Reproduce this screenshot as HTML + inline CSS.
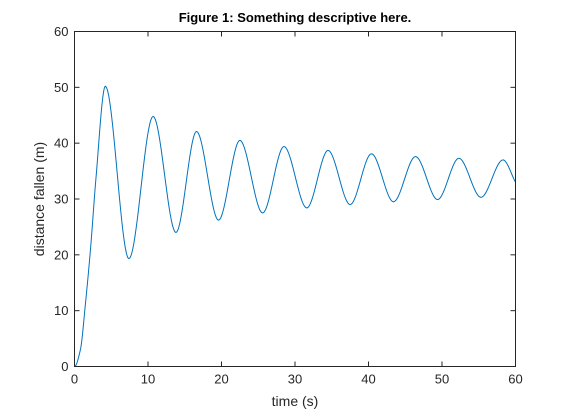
<!DOCTYPE html>
<html><head><meta charset="utf-8"><style>
body{margin:0;background:#fff;}
svg{display:block;font-family:"Liberation Sans","DejaVu Sans",sans-serif;}
</style></head><body>
<svg id="chart" width="570" height="413" viewBox="0 0 570 413">
<rect x="0" y="0" width="570" height="413" fill="#fff"/>
<rect x="74" y="31" width="442" height="336" fill="#fff"/>
<g id="grid"></g>
<path id="line" fill="none" stroke="#0072BD" stroke-width="1"/>
<rect x="74.5" y="31.5" width="441" height="335" fill="none" stroke="#262626" stroke-width="1"/>
<text x="295" y="22" text-anchor="middle" font-weight="bold" font-size="13" fill="#000">Figure 1: Something descriptive here.</text>
<text x="295" y="406" text-anchor="middle" font-size="14" fill="#262626">time (s)</text>
<text x="44" y="199" text-anchor="middle" font-size="14" fill="#262626" transform="rotate(-90 44 199)">distance fallen (m)</text>
</svg>
<script>
const tData=[0,0.8,1.5,2.2,2.9,4.2,7.4,10.7,13.8,16.6,19.6,22.5,25.6,28.5,31.6,34.5,37.5,40.4,43.4,46.4,49.4,52.3,55.3,58.3,60];
const yData=[0,3,11.4,21.4,33.4,50.2,19.3,44.8,24,42.1,26.2,40.5,27.5,39.4,28.4,38.7,29,38.1,29.5,37.6,29.9,37.3,30.3,37,33];
const xTicks=[0,10,20,30,40,50,60];
const yTicks=[0,10,20,30,40,50,60];
const X0=74.5,X1=515.5,Y0=366.5,Y1=31.5;
const xs=v=>X0+(v-0)/60*(X1-X0);
const ys=v=>Y0-(v-0)/60*(Y0-Y1);
const NS='http://www.w3.org/2000/svg';
const g=document.getElementById('grid');
function mk(tag,attrs){const e=document.createElementNS(NS,tag);for(const k in attrs)e.setAttribute(k,attrs[k]);return e;}
xTicks.forEach(v=>{
 const x=xs(v);
 const t1=mk('line',{x1:x,x2:x,y1:Y0,y2:Y0-5,stroke:'#262626'});
 
 
 g.appendChild(t1);
 const t2=mk('line',{x1:x,x2:x,y1:Y1,y2:Y1+5,stroke:'#262626'});
 
 
 g.appendChild(t2);
 const l=mk('text',{x:x,y:Y0+17,'text-anchor':'middle','font-size':'13',fill:'#262626'});
 l.textContent=v;
 
 
 g.appendChild(l);
});
yTicks.forEach(v=>{
 const y=ys(v);
 const t1=mk('line',{x1:X0,x2:X0+5,y1:y,y2:y,stroke:'#262626'});
 
 
 g.appendChild(t1);
 const t2=mk('line',{x1:X1,x2:X1-5,y1:y,y2:y,stroke:'#262626'});
 
 
 g.appendChild(t2);
 const l=mk('text',{x:X0-6,y:y+4.5,'text-anchor':'end','font-size':'13',fill:'#262626'});
 l.textContent=v;
 
 
 g.appendChild(l);
});
const n=tData.length,d=[],m=[];
for(let i=0;i<n-1;i++)d.push((yData[i+1]-yData[i])/(tData[i+1]-tData[i]));
m[0]=0;m[n-1]=d[n-2];
for(let i=1;i<n-1;i++){
 if(d[i-1]*d[i]<=0)m[i]=0;
 else{const h0=tData[i]-tData[i-1],h1=tData[i+1]-tData[i];const w1=2*h1+h0,w2=h1+2*h0;m[i]=(w1+w2)/(w1/d[i-1]+w2/d[i]);}
}
let p='M'+xs(tData[0])+','+ys(yData[0]);
for(let i=0;i<n-1;i++){
 const h=tData[i+1]-tData[i];
 for(let k=1;k<=20;k++){
  const s=k/20,s2=s*s,s3=s2*s;
  const v=(2*s3-3*s2+1)*yData[i]+(s3-2*s2+s)*h*m[i]+(-2*s3+3*s2)*yData[i+1]+(s3-s2)*h*m[i+1];
  p+='L'+xs(tData[i]+s*h).toFixed(2)+','+ys(v).toFixed(2);
 }
}
document.getElementById('line').setAttribute('d',p);
</script>
</body></html>
